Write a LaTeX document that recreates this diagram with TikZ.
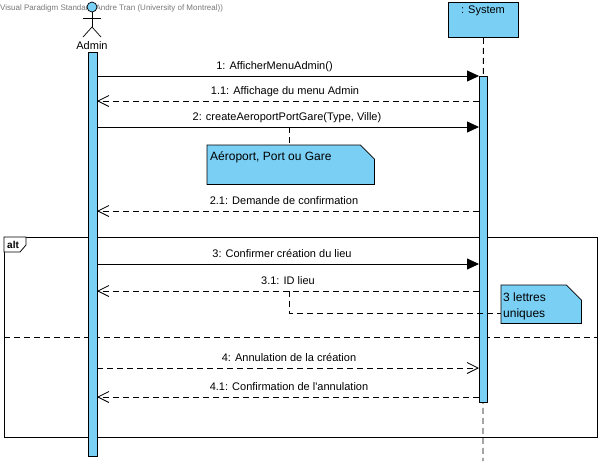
\documentclass[tikz,border=0pt]{standalone}
\usepackage{fontspec}
\setmainfont{Liberation Sans}[Ligatures=TeXOff]
\usetikzlibrary{arrows.meta}
\definecolor{vpblue}{RGB}{122,207,245}
\definecolor{vpgray}{RGB}{120,120,120}
\begin{document}
\begin{tikzpicture}[x=1pt,y=-1pt,
  bar/.style={draw,fill=vpblue,line width=0.8pt,inner sep=0,anchor=north west},
  sync/.style={line width=0.8pt,-{Triangle[length=12pt,width=11pt]}},
  ret/.style={line width=0.8pt,dash pattern=on 6pt off 4pt,-{Straight Barb[length=11pt,width=11pt,line width=0.8pt]}},
  lbl/.style={font=\fontsize{11}{13}\selectfont,anchor=base,inner sep=0},
  notetxt/.style={font=\fontsize{12}{15}\selectfont,anchor=base west,inner sep=0},
  notebox/.style={draw,fill=vpblue,line width=0.8pt},
  dashline/.style={line width=0.8pt,dash pattern=on 6pt off 4pt}
]
\useasboundingbox (0,0) rectangle (601,461);
\fill[white] (0,0) rectangle (601,461);

% header
\node[anchor=base west,text=vpgray,font=\fontsize{8}{9}\selectfont,inner sep=0] (hdr) at (0,10) {Visual Paradigm Standard(Andre Tran (University of Montreal))};

% actor
\node[circle,draw,fill=vpblue,minimum size=10pt,inner sep=0,line width=0.7pt] (head) at (92,7) {};
\coordinate (hip) at (92,27);
\coordinate (larm) at (83,18);
\coordinate (rarm) at (101,18);
\coordinate (lleg) at (83,37);
\coordinate (rleg) at (101,37);
\draw[line width=0.7pt] (head.south) -- (hip);
\draw[line width=0.7pt] (larm) -- (rarm);
\draw[line width=0.7pt] (lleg) -- (hip) -- (rleg);
\node[lbl] (admin) at (92,49) {Admin};

% system
\node[draw,fill=vpblue,anchor=north west,minimum width=70pt,minimum height=35pt,inner sep=0,line width=0.8pt] (sys) at (448,2) {};
\node[lbl] (systxt) at (483,13) {: System};
\coordinate (sysend) at (483,461);
\draw[dashline] (sys.south) -- (sysend);

% alt frame
\node[anchor=north west,minimum width=593pt,minimum height=200pt,inner sep=0] (frame) at (4,237) {};
\draw[line width=0.8pt] (frame.north west) rectangle (frame.south east);
\coordinate (sepl) at (4,337);
\coordinate (sepr) at (597,337);
\draw[dashline] (sepl) -- (sepr);
\draw[line width=0.8pt,fill=white] (4,237) -- (26,237) -- (26,245) -- (20,252) -- (4,252) -- cycle;
\node[anchor=base west,inner sep=0,font=\bfseries\fontsize{10}{12}\selectfont] (alt) at (7,248) {alt};

% activation bars
\node[bar,minimum width=9pt,minimum height=404pt] (abar) at (88,52) {};
\node[bar,minimum width=8pt,minimum height=326pt] (sbar) at (479,76) {};

% message endpoints
\foreach \n/\y in {1/76,2/101,3/127,4/211,5/264,6/291,7/368,8/397}{
  \coordinate (a\n) at (97,\y);
  \coordinate (s\n) at (479,\y);
}

\draw[sync] (a1) -- (s1);
\node[lbl] (m1) at (274.5,69) {1: AfficherMenuAdmin()};
\draw[ret] (s2) -- (a2);
\node[lbl] (m2) at (285,94) {1.1: Affichage du menu Admin};
\draw[sync] (a3) -- (s3);
\node[lbl] (m3) at (287,120) {2: createAeroportPortGare(Type, Ville)};
\draw[ret] (s4) -- (a4);
\node[lbl] (m4) at (284,204) {2.1: Demande de confirmation};
\draw[sync] (a5) -- (s5);
\node[lbl] (m5) at (282,257) {3: Confirmer création du lieu};
\draw[ret] (s6) -- (a6);
\node[lbl] (m6) at (288,284) {3.1: ID lieu};
\draw[ret] (a7) -- (s7);
\node[lbl] (m7) at (289,361) {4: Annulation de la création};
\draw[ret] (s8) -- (a8);
\node[lbl] (m8) at (289,390) {4.1: Confirmation de l'annulation};

% note 1
\node[anchor=north west,minimum width=167pt,minimum height=39pt,inner sep=0] (note1) at (207,145) {};
\draw[notebox] (note1.north west) -- ([xshift=-14pt]note1.north east) -- ([yshift=-14pt]note1.north east) -- (note1.south east) -- (note1.south west) -- cycle;
\node[notetxt] (n1t) at (210,160) {Aéroport, Port ou Gare};
\coordinate (c1) at (289,127);
\draw[dashline] (c1) -- (c1 |- note1.north);

% note 2
\node[anchor=north west,minimum width=80pt,minimum height=38pt,inner sep=0] (note2) at (501,285) {};
\draw[notebox] (note2.north west) -- ([xshift=-15pt]note2.north east) -- ([yshift=-15pt]note2.north east) -- (note2.south east) -- (note2.south west) -- cycle;
\node[notetxt] (n2a) at (503,301) {3 lettres};
\node[notetxt] (n2b) at (503,317) {uniques};
\coordinate (c2) at (289,291);
\coordinate (c2b) at (289,313);
\draw[dashline] (c2) -- (c2b) -- (c2b -| note2.west);
\end{tikzpicture}
\end{document}
